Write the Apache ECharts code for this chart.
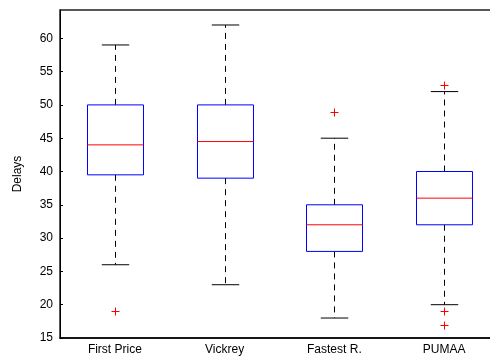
<!DOCTYPE html>
<html>
<head>
<meta charset="utf-8">
<script src="https://cdn.jsdelivr.net/npm/echarts@6/dist/echarts.min.js"></script>
<style>
  html, body { margin: 0; padding: 0; background: #fff; }
  #chart { width: 490px; height: 359px; }
</style>
</head>
<body>
<div id="chart"></div>
<script>
// Delay distributions per allocation mechanism
const categories = ['First Price', 'Vickrey', 'Fastest R.', 'PUMAA'];
const whiskerLow  = [26, 23, 18, 20];
const quartile1   = [39.5, 39, 28, 32];
const medians     = [44, 44.5, 32, 36];
const quartile3   = [50, 50, 35, 40];
const whiskerHigh = [59, 62, 45, 52];
// Outliers as [category index, delay]
const outliers = [[0, 19], [2, 49], [3, 53], [3, 19], [3, 17]];
const yTicks = { min: 15, max: 64.25, step: 5 };

const boxData = categories.map((c, i) =>
  [i, whiskerLow[i], quartile1[i], medians[i], quartile3[i], whiskerHigh[i]]);

const FONT = 'Liberation Sans, Arial, Helvetica, sans-serif';

function renderBox(params, api) {
  const idx = api.value(0);
  const band = api.size([1, 0])[0];
  const boxHalf = band * 0.255;
  const capHalf = band * 0.125;
  const pLow = api.coord([idx, api.value(1)]);
  const pQ1 = api.coord([idx, api.value(2)]);
  const pMed = api.coord([idx, api.value(3)]);
  const pQ3 = api.coord([idx, api.value(4)]);
  const pHigh = api.coord([idx, api.value(5)]);
  const x = Math.round(pMed[0]) + 0.5;
  const dashed = { stroke: '#000', lineWidth: 1, lineDash: [6, 5] };
  const solid = { stroke: '#000', lineWidth: 1 };
  return {
    type: 'group',
    children: [
      { type: 'line', shape: { x1: x, y1: pQ3[1], x2: x, y2: pHigh[1] }, style: dashed },
      { type: 'line', shape: { x1: x, y1: pQ1[1], x2: x, y2: pLow[1] }, style: dashed },
      { type: 'line', shape: { x1: x - capHalf, y1: pHigh[1], x2: x + capHalf, y2: pHigh[1] }, style: solid },
      { type: 'line', shape: { x1: x - capHalf, y1: pLow[1], x2: x + capHalf, y2: pLow[1] }, style: solid },
      { type: 'rect',
        shape: { x: x - boxHalf, y: pQ3[1], width: boxHalf * 2, height: pQ1[1] - pQ3[1] },
        style: { fill: 'none', stroke: '#0000ff', lineWidth: 1 } },
      { type: 'line', shape: { x1: x - boxHalf, y1: pMed[1], x2: x + boxHalf, y2: pMed[1] },
        style: { stroke: '#ff0000', lineWidth: 1 } }
    ]
  };
}

function renderPlus(params, api) {
  const p = api.coord([api.value(0), api.value(1)]);
  const x = Math.round(p[0]) + 0.5;
  const y = Math.round(p[1]) + 0.5;
  const r = 4;
  const st = { stroke: '#ff0000', lineWidth: 1 };
  return {
    type: 'group',
    children: [
      { type: 'line', shape: { x1: x - r, y1: y, x2: x + r, y2: y }, style: st },
      { type: 'line', shape: { x1: x, y1: y - r, x2: x, y2: y + r }, style: st }
    ]
  };
}

const chart = echarts.init(document.getElementById('chart'), null, { renderer: 'canvas' });
chart.setOption({
  animation: false,
  backgroundColor: '#fff',
  grid: {
    left: 60, top: 10, width: 439, height: 328,
    outerBoundsMode: 'none',
    containLabel: false,
    show: true, borderColor: '#222', borderWidth: 1.5, backgroundColor: 'transparent'
  },
  xAxis: {
    type: 'category',
    data: categories,
    boundaryGap: true,
    axisLine: { lineStyle: { color: '#000', width: 1.5 } },
    axisTick: { show: false },
    axisLabel: { color: '#000', fontFamily: FONT, fontSize: 12, margin: 6 },
    splitLine: { show: false }
  },
  yAxis: {
    type: 'value',
    min: yTicks.min, max: yTicks.max, interval: yTicks.step,
    name: 'Delays',
    nameLocation: 'middle',
    nameGap: 36,
    nameTextStyle: { color: '#000', fontFamily: FONT, fontSize: 12 },
    axisLine: { show: true, lineStyle: { color: '#000', width: 1 } },
    axisTick: { show: true, inside: true, length: 3, lineStyle: { color: '#000' } },
    axisLabel: { color: '#000', fontFamily: FONT, fontSize: 12, margin: 7, showMaxLabel: false },
    splitLine: { show: false }
  },
  series: [
    {
      type: 'custom',
      renderItem: renderBox,
      data: boxData,
      encode: { x: 0, y: [1, 2, 3, 4, 5] },
      z: 2
    },
    {
      type: 'custom',
      renderItem: renderPlus,
      data: outliers,
      encode: { x: 0, y: 1 },
      z: 3
    }
  ]
});
</script>
</body>
</html>
